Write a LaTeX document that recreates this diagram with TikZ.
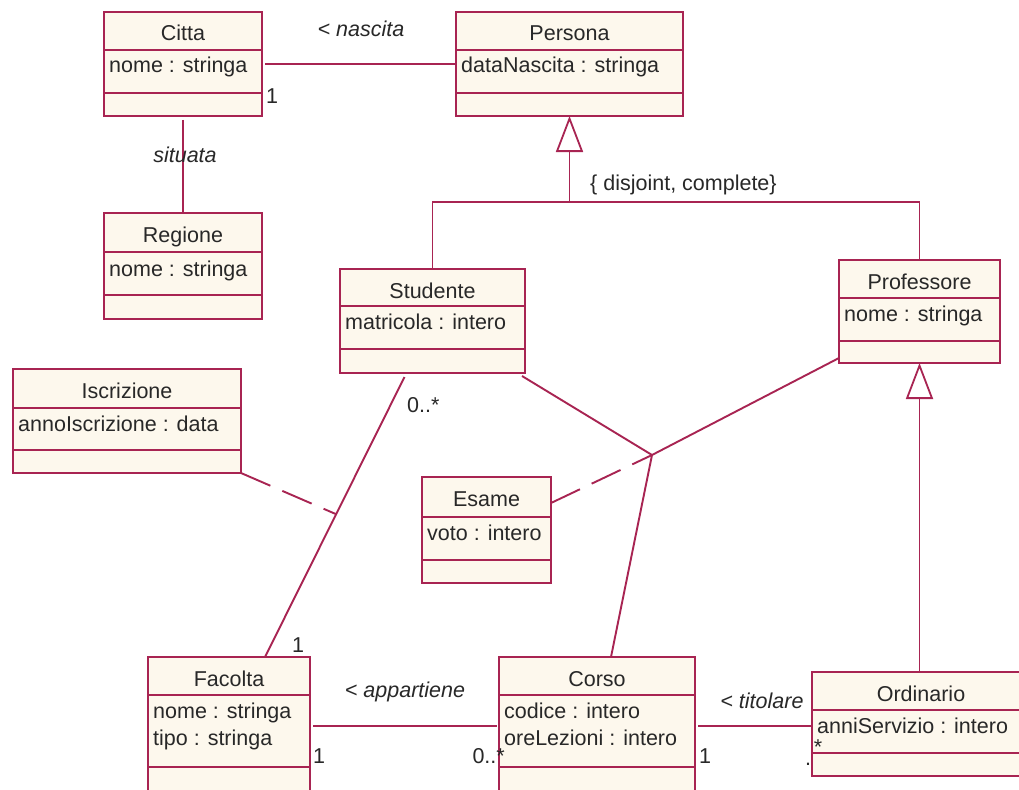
\documentclass[tikz,border=0pt]{standalone}
\usepackage{fontspec}
\setmainfont{Liberation Sans}
\usetikzlibrary{arrows.meta,calc}
\definecolor{umlline}{RGB}{168,36,82}
\definecolor{umlfill}{RGB}{253,248,237}
\definecolor{umltext}{RGB}{40,40,40}

% class box: name, x1, y1, x2, y2, divider 1, divider 2, title
\newcommand{\umlclass}[8]{%
  \node[classbox, anchor=north west, minimum width={(#4-#2)*1pt}, minimum height={(#5-#3)*1pt}] (#1) at (#2,#3) {};
  \draw[umlline, line width=1.8pt] (#2,#6) -- (#4,#6) (#2,#7) -- (#4,#7);
  \node[lbl, anchor=base] at ({(#2+#4)/2},{#3+29}) {#8};
}
% attribute line: x1, baseline y, text
\newcommand{\umlattr}[3]{%
  \node[lbl, anchor=base west] at ({#1+5},#2) {#3};
}

\tikzset{
  classbox/.style={draw=umlline, fill=umlfill, line width=1.8pt, inner sep=0pt, outer sep=0pt},
  lbl/.style={text=umltext, font=\fontsize{21.5}{25}\selectfont, inner sep=0pt},
  rolelbl/.style={lbl, font=\fontsize{21.5}{25}\selectfont\itshape},
  assoc/.style={draw=umlline, line width=1.9pt},
  dashassoc/.style={assoc, dash pattern=on 32pt off 13pt},
  gentip/.style={-{Triangle[open, length=36pt, width=27pt, line width=1.8pt]}},
}

\begin{document}
\begin{tikzpicture}[x=1pt, y=-1pt]
\useasboundingbox (0,0) rectangle (1019,789);
\fill[white] (0,0) rectangle (1019,789);

% classes
\umlclass{citta}{104}{12}{262}{116}{50}{93}{Citta}
\umlattr{104}{73}{nome : stringa}
\umlclass{persona}{456}{12}{683}{116}{50}{93}{Persona}
\umlattr{456}{73}{dataNascita : stringa}
\umlclass{regione}{104}{213}{262}{319}{252}{295}{Regione}
\umlattr{104}{276}{nome : stringa}
\umlclass{studente}{340}{269}{525}{373}{306}{349}{Studente}
\umlattr{340}{329}{matricola : intero}
\umlclass{professore}{839}{260}{1000}{363}{298}{341}{Professore}
\umlattr{839}{321}{nome : stringa}
\umlclass{iscrizione}{13}{369}{241}{473}{408}{450}{Iscrizione}
\umlattr{13}{431}{annoIscrizione : data}
\umlclass{esame}{422}{477}{551}{583}{517}{560}{Esame}
\umlattr{422}{540}{voto : intero}
\umlclass{facolta}{148}{657}{310}{800}{695}{767}{Facolta}
\umlattr{148}{718}{nome : stringa}
\umlattr{148}{745}{tipo : stringa}
\umlclass{corso}{499}{657}{695}{800}{695}{767}{Corso}
\umlattr{499}{718}{codice : intero}
\umlattr{499}{745}{oreLezioni : intero}
\umlclass{ordinario}{812}{672}{1030}{776}{710}{753}{Ordinario}
\umlattr{812}{733}{anniServizio : intero}

% Citta -- Persona
\draw[assoc] ([xshift=3pt]citta.east) -- (persona.west);
\node[rolelbl, anchor=base] (lnascita) at (361,37) {< nascita};
\node[lbl, anchor=base west] (mcitta) at (266,104) {1};

% Citta -- Regione
\draw[assoc] ([yshift=-4pt]citta.south) -- (regione.north);
\node[rolelbl, anchor=base] (lsituata) at (185,162) {situata};

% generalization Persona <- Studente, Professore
\coordinate (genjoin) at (569.5,202);
\draw[assoc] (studente.north) |- (genjoin) -| (professore.north);
\draw[assoc, gentip] (genjoin) -- (persona.south);
\node[lbl, anchor=base west] (constraint) at (590,190) {\{ disjoint, complete\}};

% generalization Professore <- Ordinario
\draw[assoc, gentip] (ordinario.north -| professore.south) -- (professore.south);

% Studente -- Facolta
\draw[assoc] ([xshift=-28pt,yshift=-4pt]studente.south) -- ([xshift=36pt]facolta.north)
  coordinate[pos=0.49] (iscrjoin);
\node[lbl, anchor=base west] (mstud) at (407,412) {0..*};
\node[lbl, anchor=base west] (mfac) at (292,652) {1};

% association class Iscrizione
\draw[dashassoc] (iscrizione.south east) -- (iscrjoin);

% ternary association Studente / Professore / Corso with class Esame
\coordinate (tern) at (652,455);
\draw[assoc] ([xshift=-3pt,yshift=-3pt]studente.south east) -- (tern);
\draw[assoc] ([yshift=5pt]professore.south west) -- (tern);
\draw[assoc] ([xshift=14pt]corso.north) -- (tern);
\draw[dashassoc] ([yshift=27pt]esame.east) -- (tern);

% Facolta -- Corso
\coordinate (fcy) at (0,726);
\draw[assoc] ([xshift=3pt]facolta.east |- fcy) -- ([xshift=-2pt]corso.west |- fcy);
\node[rolelbl, anchor=base] (lappart) at (405,697) {< appartiene};
\node[lbl, anchor=base west] (mfac2) at (313,763) {1};
\node[lbl, anchor=base east] (mcorso) at (505,763) {0..*};

% Corso -- Ordinario
\draw[assoc] ([xshift=3pt]corso.east |- fcy) -- (ordinario.west |- fcy);
\node[rolelbl, anchor=base] (ltitolare) at (762,708) {< titolare};
\node[lbl, anchor=base west] (mcorso2) at (699,763) {1};
\node[lbl, anchor=base] (mord) at (818,754) {*};
\node[lbl, anchor=base] (morddot) at (808,765) {.};
\end{tikzpicture}
\end{document}
